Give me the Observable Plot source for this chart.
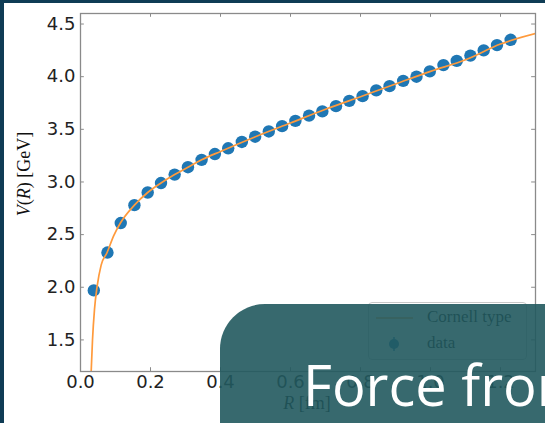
<!DOCTYPE html>
<html>
<head>
<meta charset="utf-8">
<script src="https://cdn.jsdelivr.net/npm/d3@7"></script>
<script src="https://cdn.jsdelivr.net/npm/@observablehq/plot@0.6"></script>
<style>
  html, body { margin: 0; padding: 0; }
  body { width: 545px; height: 423px; overflow: hidden; background: #0f3c55; position: relative; }
  #page { position: absolute; left: 4px; top: 3px; width: 541px; height: 420px; background: #fff; overflow: hidden; }
  #chart { position: absolute; left: 0; top: 0; }
  .serif { font-family: "Liberation Serif", "DejaVu Serif", serif; color: #111; position: absolute; white-space: nowrap; }
  #ylabel { font-size: 18px; left: 20px; top: 171px; transform: translate(-50%, -50%) rotate(-90deg); }
  #xlabel { font-size: 18px; left: 303px; top: 400px; transform: translate(-50%, -50%); }
  #legend { position: absolute; left: 364px; top: 299px; width: 157px; height: 56px; border: 1px solid #c8c8c8; border-radius: 4px; background: #fff; }
  #legend svg { position: absolute; left: 0; top: 0; }
  #legend .item { font-size: 17px; left: 58px; }
  #panel { position: absolute; left: 216px; top: 301px; width: 400px; height: 200px; border-top-left-radius: 45px; background: rgba(33, 89, 94, 0.9); overflow: hidden; }
  #panel span { position: absolute; left: 83px; top: 52px; font-family: "Open Sans", sans-serif; font-size: 56px; color: #fff; white-space: nowrap; line-height: 1; }
</style>
</head>
<body>
<div id="page">
  <div id="chart"></div>
  <div id="ylabel" class="serif"><i>V</i>(<i>R</i>) [GeV]</div>
  <div id="xlabel" class="serif"><i>R</i> [fm]</div>
  <div id="legend">
    <svg width="157" height="56">
      <line x1="7" x2="44" y1="15" y2="15" stroke="#ff9a3c" stroke-width="1.6"></line>
      <line x1="25" x2="25" y1="34" y2="48" stroke="#1f77b4" stroke-width="1.5"></line>
      <circle cx="25" cy="41" r="5" fill="#1f77b4"></circle>
    </svg>
    <div class="serif item" style="top:4px">Cornell type</div>
    <div class="serif item" style="top:30px">data</div>
  </div>
  <div id="panel"><span>Force from</span></div>
</div>
<script>
// Static quark-antiquark potential: lattice points and a Cornell-type fit
const separation = [0.038, 0.077, 0.115, 0.154, 0.192, 0.230, 0.269, 0.307, 0.346, 0.384,
  0.422, 0.461, 0.499, 0.538, 0.576, 0.614, 0.653, 0.691, 0.730, 0.768,
  0.806, 0.845, 0.883, 0.922, 0.960, 0.998, 1.037, 1.075, 1.114, 1.152, 1.190, 1.229];
const potential = [1.97, 2.33, 2.61, 2.78, 2.90, 2.99, 3.07, 3.14, 3.21, 3.265,
  3.32, 3.38, 3.43, 3.48, 3.53, 3.58, 3.63, 3.67, 3.72, 3.77,
  3.815, 3.87, 3.91, 3.96, 4.00, 4.05, 4.11, 4.15, 4.20, 4.25, 4.30, 4.35];

// Cornell-type curve, sampled
const fitR = [0.0305, 0.0343, 0.040, 0.0476, 0.059, 0.076, 0.095, 0.114, 0.154, 0.192, 0.230, 0.269, 0.307, 0.346, 0.40, 0.50, 0.60, 0.70, 0.80, 0.90, 1.00, 1.10, 1.20, 1.30];
const fitV = [1.20, 1.50, 1.79, 2.01, 2.21, 2.33, 2.49, 2.61, 2.78, 2.90, 2.99, 3.07, 3.14, 3.21, 3.29, 3.43, 3.56, 3.69, 3.81, 3.93, 4.05, 4.16, 4.31, 4.41];

const xTicks = [0.0, 0.2, 0.4, 0.6, 0.8, 1.0, 1.2];
const yTicks = [1.5, 2.0, 2.5, 3.0, 3.5, 4.0, 4.5];

const xDomain = [0, 1.3];
const yDomain = [1.2, 4.6];

const points = separation.map((r, i) => ({r, v: potential[i]}));
const fit = fitR.map((r, i) => ({r, v: fitV[i]}));

const tickX = 0.011, tickY = 0.036;
const gray = "#8a8a8a";

const chart = Plot.plot({
  width: 541,
  height: 420,
  marginLeft: 76,
  marginRight: 10,
  marginTop: 10,
  marginBottom: 52,
  style: {fontFamily: "DejaVu Sans", fontSize: "18px", color: "#222", background: "transparent", overflow: "visible"},
  x: {domain: xDomain},
  y: {domain: yDomain},
  marks: [
    Plot.axisX(xTicks, {tickSize: 0, tickPadding: 4, tickFormat: d3.format(".1f"), label: null, fill: "#222"}),
    Plot.axisY(yTicks, {tickSize: 0, tickPadding: 5, tickFormat: d3.format(".1f"), label: null, fill: "#222"}),
    // inward ticks on all four sides
    Plot.ruleX(xTicks, {y1: yDomain[0], y2: yDomain[0] + tickY, stroke: gray}),
    Plot.ruleX(xTicks, {y1: yDomain[1] - tickY, y2: yDomain[1], stroke: gray}),
    Plot.ruleY(yTicks, {x1: xDomain[0], x2: xDomain[0] + tickX, stroke: gray}),
    Plot.ruleY(yTicks, {x1: xDomain[1] - tickX, x2: xDomain[1], stroke: gray}),
    Plot.dot(points, {x: "r", y: "v", r: 6.2, fill: "#1f77b4", stroke: "none"}),
    Plot.line(fit, {x: "r", y: "v", stroke: "#ff9a3c", strokeWidth: 1.7, curve: "monotone-x", clip: true}),
    Plot.frame({stroke: gray, strokeWidth: 1.3})
  ]
});
document.getElementById("chart").appendChild(chart);
</script>
</body>
</html>
